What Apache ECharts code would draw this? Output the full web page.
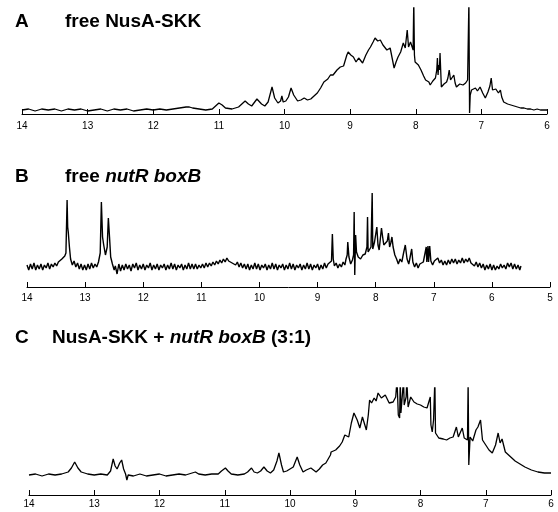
<!DOCTYPE html>
<html>
<head>
<meta charset="utf-8">
<script src="https://cdn.jsdelivr.net/npm/echarts@6/dist/echarts.min.js"></script>
<style>
  html, body { margin: 0; padding: 0; background: #fff; }
  #main { width: 558px; height: 512px; }
</style>
</head>
<body>
<div id="main"></div>
<script>
const spectrumA = [
  [14.0, 0], [13.9, 1], [13.8, -1], [13.7, 1], [13.6, 0], [13.5, 1], [13.4, -1], [13.3, 1], [13.2, 0], [13.1, 1],
  [13.0, -1], [12.9, 0], [12.8, 1], [12.7, -1], [12.6, 1], [12.5, 0], [12.4, 1], [12.3, -1], [12.2, 0], [12.1, 1],
  [12.0, 0], [11.9, 1], [11.8, 0], [11.7, 1], [11.6, 2], [11.5, 3], [11.45, 3], [11.4, 2], [11.3, 1], [11.2, 0],
  [11.1, 1], [11.05, 4], [11.0, 7], [10.95, 5], [10.9, 2], [10.8, 1], [10.7, 3], [10.6, 9], [10.55, 6], [10.5, 4],
  [10.42, 11], [10.35, 6], [10.3, 4], [10.25, 8], [10.19, 23], [10.15, 12], [10.1, 7], [10.06, 9], [10.04, 14], [10.02, 8],
  [9.98, 9], [9.94, 13], [9.9, 22], [9.86, 15], [9.8, 9], [9.75, 10], [9.7, 12], [9.65, 10], [9.6, 11], [9.55, 14],
  [9.5, 17], [9.45, 22], [9.4, 28], [9.38, 30], [9.34, 31], [9.3, 35], [9.26, 35], [9.2, 40], [9.15, 43], [9.1, 44],
  [9.05, 55], [9.03, 58], [8.99, 55], [8.95, 53], [8.91, 48], [8.87, 52], [8.84, 50], [8.81, 47], [8.76, 55], [8.72, 60],
  [8.69, 63], [8.65, 68], [8.62, 72], [8.58, 69], [8.54, 70], [8.5, 65], [8.47, 63], [8.44, 60], [8.39, 62], [8.36, 52],
  [8.33, 42], [8.3, 48], [8.27, 53], [8.23, 58], [8.19, 67], [8.16, 62], [8.13, 80], [8.11, 63], [8.08, 68], [8.06, 70],
  [8.04, 60], [8.03, 110], [8.02, 55], [8.01, 48], [7.96, 45], [7.92, 40], [7.88, 34], [7.85, 30], [7.8, 28], [7.78, 25],
  [7.74, 29], [7.7, 32], [7.68, 40], [7.67, 52], [7.66, 35], [7.65, 45], [7.64, 40], [7.63, 57], [7.61, 23], [7.57, 26],
  [7.53, 28], [7.51, 32], [7.49, 40], [7.47, 30], [7.45, 28], [7.42, 35], [7.4, 27], [7.38, 23], [7.33, 26], [7.28, 25],
  [7.24, 27], [7.21, 30], [7.19, 110], [7.18, -3], [7.17, 15], [7.15, 20], [7.12, 18], [7.09, 22], [7.06, 19], [7.02, 23],
  [6.98, 17], [6.94, 12], [6.9, 18], [6.87, 24], [6.85, 32], [6.83, 20], [6.81, 18], [6.78, 21], [6.76, 22], [6.74, 17],
  [6.71, 20], [6.69, 13], [6.66, 8], [6.6, 6], [6.55, 5], [6.5, 4], [6.45, 3], [6.4, 2], [6.35, 2], [6.3, 1],
  [6.25, 1], [6.2, 0], [6.15, 1], [6.1, 0], [6.05, 0], [6.0, 0]
];

const spectrumB = [
  [14.0, 2], [13.97, -3], [13.94, 3], [13.91, -2], [13.88, 4], [13.85, -3], [13.82, 2], [13.79, -2], [13.76, 3], [13.73, -3],
  [13.7, 2], [13.67, -1], [13.64, 4], [13.61, -2], [13.58, 3], [13.55, 0], [13.52, 4], [13.49, 1], [13.46, 5], [13.43, 3],
  [13.4, 8], [13.37, 6], [13.35, 11], [13.33, 14], [13.31, 67], [13.3, 40], [13.29, 35], [13.27, 20], [13.25, 8], [13.22, 2],
  [13.19, 6], [13.16, 0], [13.13, 4], [13.1, -2], [13.07, 3], [13.04, -3], [13.01, 2], [12.98, -3], [12.95, 3], [12.92, -2],
  [12.89, 4], [12.86, -1], [12.83, 3], [12.8, 0], [12.77, 5], [12.74, 14], [12.72, 65], [12.7, 30], [12.68, 22], [12.65, 12],
  [12.62, 20], [12.6, 49], [12.58, 30], [12.56, 10], [12.53, 3], [12.5, -3], [12.48, 1], [12.45, -7], [12.42, 3], [12.39, -4],
  [12.36, 2], [12.33, -3], [12.3, 3], [12.27, -2], [12.24, 2], [12.21, -4], [12.18, 3], [12.15, -1], [12.12, 4], [12.09, -3],
  [12.06, 2], [12.03, -2], [12.0, 3], [11.97, -3], [11.94, 2], [11.91, -1], [11.88, 4], [11.85, -3], [11.82, 2], [11.79, -2],
  [11.76, 3], [11.73, -3], [11.7, 2], [11.67, -1], [11.64, 3], [11.61, -3], [11.58, 2], [11.55, -2], [11.52, 4], [11.49, -2],
  [11.46, 3], [11.43, -3], [11.4, 2], [11.37, -1], [11.34, 3], [11.31, -3], [11.28, 2], [11.25, -2], [11.22, 4], [11.19, -2],
  [11.16, 3], [11.13, -2], [11.1, 3], [11.07, -2], [11.04, 2], [11.01, -1], [10.98, 3], [10.95, -1], [10.92, 4], [10.89, 0],
  [10.86, 4], [10.83, 1], [10.8, 5], [10.77, 2], [10.74, 6], [10.71, 3], [10.68, 7], [10.65, 4], [10.62, 8], [10.59, 5],
  [10.56, 9], [10.53, 6], [10.5, 8], [10.47, 4], [10.44, 6], [10.41, 2], [10.38, 5], [10.35, 0], [10.32, 4], [10.29, -1],
  [10.26, 3], [10.23, -2], [10.2, 3], [10.17, -3], [10.14, 2], [10.11, -2], [10.08, 4], [10.05, -2], [10.02, 3], [9.99, -3],
  [9.96, 2], [9.93, -1], [9.9, 3], [9.87, -3], [9.84, 2], [9.81, -2], [9.78, 4], [9.75, -2], [9.72, 3], [9.69, -3],
  [9.66, 2], [9.63, -1], [9.6, 3], [9.57, -3], [9.54, 2], [9.51, -2], [9.48, 4], [9.45, -2], [9.42, 3], [9.39, -3],
  [9.36, 2], [9.33, -1], [9.3, 3], [9.27, -3], [9.24, 2], [9.21, -2], [9.18, 4], [9.15, -2], [9.12, 3], [9.09, -3],
  [9.06, 2], [9.03, -1], [9.0, 3], [8.97, -3], [8.94, 2], [8.91, -2], [8.88, 4], [8.85, -1], [8.82, 3], [8.79, 1],
  [8.76, 6], [8.745, 33], [8.73, 8], [8.71, 1], [8.68, 4], [8.65, -1], [8.62, 3], [8.59, 0], [8.56, 5], [8.53, 2],
  [8.51, 8], [8.49, 12], [8.48, 25], [8.46, 10], [8.43, 3], [8.4, 7], [8.38, 12], [8.37, 55], [8.36, -8], [8.345, 32],
  [8.33, 15], [8.3, 10], [8.26, 8], [8.22, 12], [8.18, 13], [8.15, 20], [8.14, 50], [8.13, 15], [8.1, 17], [8.08, 20],
  [8.06, 74], [8.05, 18], [8.02, 25], [7.98, 40], [7.96, 22], [7.94, 17], [7.92, 28], [7.9, 39], [7.88, 30], [7.86, 22],
  [7.84, 20], [7.8, 26], [7.78, 34], [7.76, 20], [7.74, 24], [7.72, 30], [7.7, 20], [7.67, 12], [7.64, 8], [7.61, 3],
  [7.58, 8], [7.55, 5], [7.52, 14], [7.49, 22], [7.46, 8], [7.43, 3], [7.4, 12], [7.38, 18], [7.36, 5], [7.33, 0],
  [7.3, 4], [7.27, -1], [7.24, 3], [7.21, 1], [7.18, 5], [7.15, 6], [7.13, 20], [7.12, 5], [7.1, 21], [7.09, 5],
  [7.07, 21], [7.05, 6], [7.02, 2], [6.99, 6], [6.96, 5], [6.93, 9], [6.9, 4], [6.87, 7], [6.84, 2], [6.81, 6],
  [6.78, 2], [6.75, 7], [6.72, 3], [6.69, 8], [6.66, 4], [6.63, 8], [6.6, 3], [6.57, 7], [6.54, 4], [6.51, 9],
  [6.48, 4], [6.45, 8], [6.42, 5], [6.39, 9], [6.36, 4], [6.33, 6], [6.3, 1], [6.27, 5], [6.24, 0], [6.21, 4],
  [6.18, -1], [6.15, 3], [6.12, -3], [6.09, 2], [6.06, -2], [6.03, 3], [6.0, -3], [5.97, 2], [5.94, -3], [5.91, 1],
  [5.88, -2], [5.85, 3], [5.82, -1], [5.79, 2], [5.76, -2], [5.73, 4], [5.7, 0], [5.67, 4], [5.64, -2], [5.61, 3],
  [5.58, -2], [5.55, 2], [5.52, -3], [5.5, 1]
];

const spectrumC = [
  [14.0, 0], [13.9, 1], [13.8, -1], [13.7, 1], [13.6, 0], [13.5, 1], [13.45, 2], [13.4, 3], [13.35, 7], [13.3, 13],
  [13.25, 7], [13.2, 3], [13.1, 1], [13.0, 0], [12.9, 1], [12.8, 0], [12.75, 4], [12.71, 16], [12.68, 9], [12.65, 6],
  [12.61, 12], [12.58, 15], [12.55, 6], [12.52, 1], [12.5, -5], [12.48, 0], [12.4, -1], [12.3, 1], [12.2, -1], [12.1, 0],
  [12.0, 1], [11.9, -1], [11.8, 0], [11.7, 1], [11.6, 0], [11.5, 2], [11.45, 3], [11.4, 1], [11.3, 0], [11.2, 1],
  [11.1, 1], [11.05, 4], [10.99, 7], [10.95, 4], [10.9, 1], [10.8, 0], [10.7, 1], [10.65, 3], [10.59, 7], [10.55, 3],
  [10.5, 2], [10.45, 4], [10.4, 8], [10.35, 4], [10.3, 2], [10.25, 5], [10.2, 14], [10.17, 22], [10.13, 10], [10.1, 3],
  [10.05, 4], [10.0, 6], [9.95, 8], [9.89, 18], [9.85, 10], [9.8, 3], [9.75, 5], [9.68, 7], [9.6, 3], [9.55, 6],
  [9.5, 10], [9.45, 12], [9.42, 13], [9.38, 20], [9.37, 23], [9.3, 25], [9.24, 29], [9.2, 33], [9.16, 40], [9.1, 38],
  [9.06, 52], [9.02, 62], [8.97, 55], [8.93, 47], [8.89, 58], [8.83, 45], [8.8, 60], [8.78, 75], [8.75, 72], [8.71, 77],
  [8.68, 74], [8.65, 82], [8.6, 77], [8.54, 80], [8.48, 72], [8.42, 73], [8.38, 78], [8.36, 95], [8.34, 60], [8.32, 57],
  [8.31, 95], [8.3, 62], [8.28, 62], [8.26, 95], [8.25, 70], [8.22, 78], [8.21, 95], [8.19, 68], [8.15, 78], [8.1, 73],
  [8.05, 71], [8.0, 70], [7.95, 68], [7.9, 67], [7.85, 78], [7.84, 50], [7.82, 43], [7.8, 55], [7.78, 95], [7.77, 42],
  [7.72, 37], [7.65, 36], [7.6, 35], [7.55, 37], [7.5, 38], [7.45, 48], [7.42, 38], [7.36, 47], [7.33, 37], [7.3, 36],
  [7.28, 35], [7.27, 95], [7.26, 10], [7.24, 38], [7.2, 34], [7.15, 45], [7.12, 48], [7.08, 55], [7.05, 35], [7.0, 30],
  [6.95, 25], [6.9, 22], [6.85, 30], [6.81, 42], [6.78, 32], [6.75, 36], [6.7, 23], [6.65, 20], [6.6, 17], [6.55, 14],
  [6.5, 12], [6.45, 10], [6.4, 8], [6.3, 5], [6.2, 3], [6.1, 2], [6.0, 2]
];

const chartDom = document.getElementById('main');
const myChart = echarts.init(chartDom);

const font = '"Liberation Sans", Arial, sans-serif';
const rich = {
  n: { fontFamily: font, fontSize: 19, fontWeight: 'bold', color: '#000' },
  i: { fontFamily: font, fontSize: 19, fontWeight: 'bold', fontStyle: 'italic', color: '#000' }
};

function ppmAxis(gridIndex, min, margin) {
  return {
    type: 'value',
    gridIndex,
    inverse: true,
    min,
    max: 14,
    interval: 1,
    axisLine: { onZero: false, lineStyle: { color: '#000', width: 1 } },
    axisTick: { inside: true, length: 5, lineStyle: { color: '#000' } },
    axisLabel: { color: '#000', fontSize: 10, fontFamily: font, margin },
    splitLine: { show: false }
  };
}

function intensityAxis(gridIndex, min, max) {
  return { type: 'value', gridIndex, min, max, show: false };
}

function trace(idx, data, width) {
  return {
    type: 'line',
    xAxisIndex: idx,
    yAxisIndex: idx,
    data,
    symbol: 'none',
    clip: true,
    lineStyle: { color: '#000', width },
    silent: true
  };
}

const option = {
  animation: false,
  backgroundColor: '#fff',
  title: [
    { text: 'A', left: 15, top: 12, padding: 0, textStyle: rich.n },
    { text: 'free NusA-SKK', left: 65, top: 12, padding: 0, textStyle: rich.n },
    { text: 'B', left: 15, top: 167, padding: 0, textStyle: rich.n },
    { text: '{n|free }{i|nutR boxB}', left: 65, top: 167, padding: 0, textStyle: { rich } },
    { text: 'C', left: 15, top: 328, padding: 0, textStyle: rich.n },
    { text: '{n|NusA-SKK + }{i|nutR boxB}{n| (3:1)}', left: 52, top: 328, padding: 0, textStyle: { rich } }
  ],
  grid: [
    { left: 22, right: 11, top: 8, height: 106 },
    { left: 27, right: 8, top: 180, height: 107 },
    { left: 29, right: 7, top: 388, height: 107 }
  ],
  xAxis: [ppmAxis(0, 6, 7), ppmAxis(1, 5, 6), ppmAxis(2, 6, 4)],
  yAxis: [intensityAxis(0, -4, 102), intensityAxis(1, -20, 87), intensityAxis(2, -20, 87)],
  series: [
    trace(0, spectrumA, 1.3),
    trace(1, spectrumB, 1.4),
    trace(2, spectrumC, 1.3)
  ]
};

option && myChart.setOption(option);
</script>
</body>
</html>
